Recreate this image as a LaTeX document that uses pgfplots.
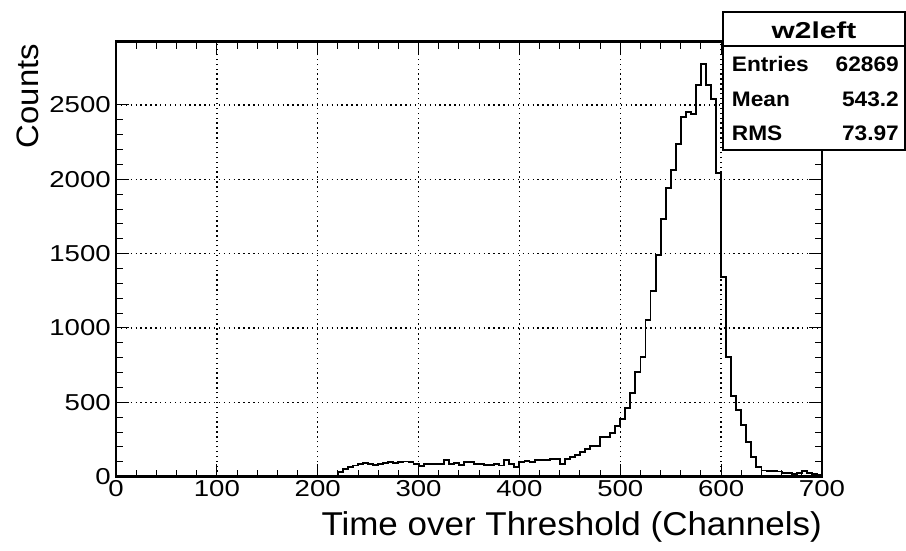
\documentclass[border=0pt]{standalone}
\usepackage{fontspec}
\usepackage{graphicx}
\setmainfont{Liberation Sans}
\newfontfamily\tickfont[FakeStretch=1.2]{Liberation Sans}
\newfontfamily\titlefont[FakeStretch=1.06]{Liberation Sans}
\newfontfamily\statfont[FakeStretch=1.08]{Liberation Sans}
\usepackage{pgfplots}
\pgfplotsset{compat=1.18}
\pgfplotstableread{
x y
0 0
215 0
220 34
225 52
230 67
235 75
240 85
245 90
250 88
255 77
260 88
265 92
270 98
275 90
280 100
285 102
290 99
295 83
300 70
305 86
310 85
315 86
320 86
325 112
330 86
335 93
340 79
345 101
350 100
355 86
360 86
365 79
370 80
375 86
380 75
385 112
390 88
395 68
400 97
405 108
410 97
415 112
420 112
425 112
430 121
435 121
440 83
445 121
450 135
455 146
460 168
465 184
470 204
475 204
480 267
485 267
490 296
495 343
500 390
505 460
510 563
515 706
520 807
525 1054
530 1249
535 1493
540 1733
545 1939
550 2062
555 2235
560 2417
565 2455
570 2439
575 2634
580 2773
585 2634
590 2538
595 2040
600 1345
605 807
610 543
615 449
620 348
625 235
630 135
635 63
640 42
645 40
650 38
655 35
660 25
665 22
670 20
675 22
680 38
685 25
690 20
695 15
700 15
}\histdata
\begin{document}
\begin{tikzpicture}
\useasboundingbox (0,0) rectangle (906pt,550pt);
\begin{axis}[
  at={(116pt,73.3pt)}, anchor=south west,
  scale only axis, width=706pt, height=435pt,
  xmin=0, xmax=700, ymin=0, ymax=2925,
  xtick={0,100,...,700}, ytick={0,500,...,2500},
  minor x tick num=4, minor y tick num=4,
  tick align=inside, xtick pos=both, ytick pos=both,
  major tick length=13pt, minor tick length=7pt,
  every tick/.style={black, line width=1pt},
  axis line style={black, line width=2.8pt},
  grid=major,
  major grid style={black, line width=1.5pt, dash pattern=on 1.4pt off 3.5pt},
  /pgf/number format/assume math mode=true,
  /pgf/number format/1000 sep={},
  scaled y ticks=false,
  xticklabel style={font=\tickfont\fontsize{23}{23}\selectfont, inner sep=0pt, yshift=-4pt},
  yticklabel style={font=\tickfont\fontsize{23}{23}\selectfont, inner sep=0pt, xshift=-5pt},
  xlabel={Time over Threshold (Channels)},
  ylabel={Counts},
  xlabel style={font=\titlefont\fontsize{33}{33}\selectfont, at={(axis description cs:1,0)}, anchor=north east, inner sep=0pt, yshift=-35pt},
  ylabel style={font=\titlefont\fontsize{31}{31}\selectfont, at={(axis description cs:0,1)}, anchor=east, inner sep=0pt, yshift=88pt, xshift=-2pt},
]
\addplot[const plot, black, line width=1.9pt] table[x=x, y=y] {\histdata};
\end{axis}
\draw[black, line width=1.6pt, fill=white] (722.7pt,400pt) rectangle (905.2pt,537.7pt);
\draw[black, line width=1.6pt] (722.7pt,504pt) -- (905.2pt,504pt);
\node[font=\bfseries\fontsize{23}{23}\selectfont] at (814pt,519.3pt) {\scalebox{1.3}[1]{w2left}};
\node[font=\statfont\bfseries\fontsize{21}{21}\selectfont, anchor=west, inner sep=0pt] at (731.7pt,486pt) {Entries};
\node[font=\statfont\bfseries\fontsize{21}{21}\selectfont, anchor=west, inner sep=0pt] at (731.7pt,451pt) {Mean};
\node[font=\statfont\bfseries\fontsize{21}{21}\selectfont, anchor=west, inner sep=0pt] at (731.7pt,417pt) {RMS};
\node[font=\statfont\bfseries\fontsize{21}{21}\selectfont, anchor=east, inner sep=0pt] at (899pt,486pt) {62869};
\node[font=\statfont\bfseries\fontsize{21}{21}\selectfont, anchor=east, inner sep=0pt] at (899pt,451pt) {543.2};
\node[font=\statfont\bfseries\fontsize{21}{21}\selectfont, anchor=east, inner sep=0pt] at (899pt,417pt) {73.97};
\end{tikzpicture}
\end{document}
